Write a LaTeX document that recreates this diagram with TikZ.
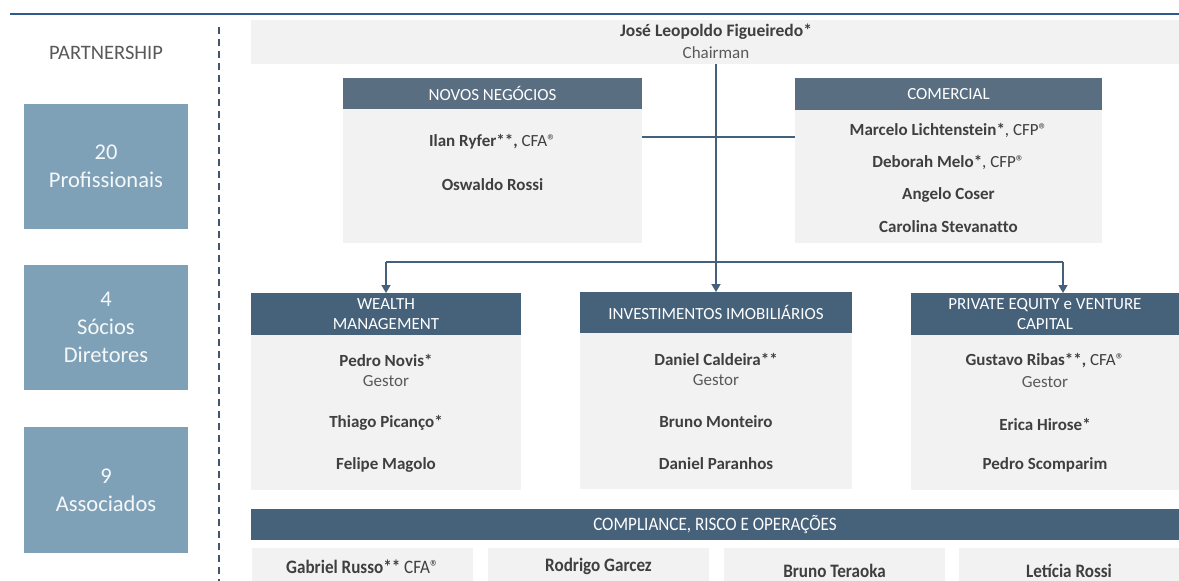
\documentclass[tikz,border=0pt]{standalone}
\usepackage{fontspec}
\setmainfont{Carlito}
\newfontfamily\narrowfont[FakeStretch=0.9]{Carlito}
\usetikzlibrary{arrows.meta}
\definecolor{topline}{HTML}{2F5A8E}
\definecolor{leftbox}{HTML}{7FA1B8}
\definecolor{hdrA}{HTML}{5A6E82}
\definecolor{hdrB}{HTML}{46617A}
\definecolor{bodyg}{HTML}{F2F2F2}
\definecolor{txt}{HTML}{3F3F3F}
\definecolor{subtxt}{HTML}{595959}
\definecolor{conn}{HTML}{44607A}
\definecolor{dashc}{HTML}{44546A}
\tikzset{
  blk/.style={inner sep=0pt, outer sep=0pt, draw=none},
  lbox/.style={blk, fill=leftbox, text=white!92!leftbox, font=\fontsize{22.5}{28}\selectfont, align=center},
  hdrone/.style={blk, fill=hdrA, text=white, font=\fontsize{17}{20}\selectfont, align=center},
  hdrtwo/.style={blk, fill=hdrB, text=white, font=\fontsize{17}{20}\selectfont, align=center},
  bodybox/.style={blk, fill=bodyg},
  person/.style={inner sep=0pt, text=txt, font=\fontsize{17}{20}\bfseries\selectfont, anchor=center},
  roletxt/.style={inner sep=0pt, text=subtxt, font=\fontsize{17}{20}\selectfont, anchor=center},
  bottomname/.style={person, font=\narrowfont\fontsize{19}{22}\bfseries\selectfont},
  conline/.style={draw=conn, line width=1.6pt},
  arr/.style={conline, -{Triangle[width=9pt,length=8pt]}},
}
\newcommand{\regs}{®}
\begin{document}
\begin{tikzpicture}[x=1pt,y=-1pt]
\useasboundingbox (0,0) rectangle (1179,581);
\fill[white] (0,0) rectangle (1179,581);
% top rule
\coordinate (tl) at (10,14);
\coordinate (tr) at (1179,14);
\draw[topline, line width=2pt] (tl) -- (tr);
% dashed divider
\coordinate (dtop) at (219,27);
\coordinate (dbot) at (219,581);
\draw[dashc, line width=1.8pt, dash pattern=on 7pt off 5pt] (dtop) -- (dbot);
% left column
\node[inner sep=0pt, text=subtxt, font=\fontsize{20.5}{24}\selectfont] (partner) at (106,53) {PARTNERSHIP};
\node[lbox, minimum width=164pt, minimum height=125pt] (l1) at (106,166.5) {20\\Profissionais};
\node[lbox, minimum width=164pt, minimum height=125pt] (l2) at (106,327.5) {4\\Sócios\\Diretores};
\node[lbox, minimum width=164pt, minimum height=126pt] (l3) at (106,490) {9\\Associados};
% chairman
\node[bodybox, minimum width=928pt, minimum height=44pt] (ch) at (715,42) {};
\node[person, font=\fontsize{17.5}{20}\bfseries\selectfont] (chn) at (716,32) {José Leopoldo Figueiredo*};
\node[roletxt] (chr) at (716,53) {Chairman};
% novos negocios
\node[hdrone, minimum width=299pt, minimum height=31pt] (nnh) at (492.5,93.5) {NOVOS NEGÓCIOS};
\node[bodybox, minimum width=299pt, minimum height=134pt] (nnb) at (492.5,176) {};
\node[person] (nn1) at (492.5,142) {Ilan Ryfer**, \textmd{CFA\regs}};
\node[person] (nn2) at (492.5,185) {Oswaldo Rossi};
% comercial
\node[hdrone, minimum width=307pt, minimum height=32pt] (coh) at (948.5,94) {COMERCIAL};
\node[bodybox, minimum width=307pt, minimum height=133pt] (cob) at (948.5,176.5) {};
\node[person] (co1) at (948.5,131) {Marcelo Lichtenstein*\textmd{, CFP\regs}};
\node[person] (co2) at (948.5,163) {Deborah Melo*\textmd{, CFP\regs}};
\node[person] (co3) at (948.5,195) {Angelo Coser};
\node[person] (co4) at (948.5,227) {Carolina Stevanat\kern0pt to};
% second row
\node[hdrtwo, minimum width=270pt, minimum height=42pt] (wmh) at (386,314) {WEALTH\\MANAGEMENT};
\node[bodybox, minimum width=270pt, minimum height=155pt] (wmb) at (386,412.5) {};
\node[person] (wm1) at (386,360) {Pedro Novis*};
\node[roletxt] (wm1r) at (386,381) {Gestor};
\node[person] (wm2) at (386,423) {Thiago Picanço*};
\node[person] (wm3) at (386,465) {Felipe Magolo};
\node[hdrtwo, minimum width=272pt, minimum height=41pt] (ivh) at (716,312.5) {INVESTIMENTOS IMOBILIÁRIOS};
\node[bodybox, minimum width=272pt, minimum height=156pt] (ivb) at (716,411) {};
\node[person] (iv1) at (716,359) {Daniel Caldeira**};
\node[roletxt] (iv1r) at (716,380) {Gestor};
\node[person] (iv2) at (716,422) {Bruno Monteiro};
\node[person] (iv3) at (716,464) {Daniel Paranhos};
\node[hdrtwo, minimum width=268pt, minimum height=42pt] (peh) at (1045,314) {PRIVATE EQUITY e VENTURE\\CAPITAL};
\node[bodybox, minimum width=268pt, minimum height=155pt] (peb) at (1045,412.5) {};
\node[person] (pe1) at (1045,361) {Gustavo Ribas**, \textmd{CFA\regs}};
\node[roletxt] (pe1r) at (1045,382) {Gestor};
\node[person] (pe2) at (1045,424) {Erica Hirose*};
\node[person] (pe3) at (1045,465) {Pedro Scomparim};
% compliance
\node[hdrtwo, minimum width=928pt, minimum height=31pt, font=\narrowfont\fontsize{19}{22}\selectfont] (cph) at (715,524.5) {COMPLIANCE, RISCO E OPERAÇÕES};
\node[bodybox, minimum width=221pt, minimum height=33pt] (b1) at (362.5,564.5) {};
\node[bodybox, minimum width=221pt, minimum height=33pt] (b2) at (598.5,564.5) {};
\node[bodybox, minimum width=221pt, minimum height=33pt] (b3) at (834.5,564.5) {};
\node[bodybox, minimum width=220pt, minimum height=33pt] (b4) at (1069,564.5) {};
\node[bottomname] (b1t) at (362.5,567) {Gabriel Russo** \textmd{CFA\regs}};
\node[bottomname] (b2t) at (598.5,566) {Rodrigo Garcez};
\node[bottomname] (b3t) at (834.5,571) {Bruno Teraoka};
\node[bottomname] (b4t) at (1069,571) {Letícia Rossi};
% connectors
\coordinate (bar) at (716,262);
\coordinate (pearr) at (1063,262);
\draw[conline] (nnb.east |- 0,137) -- (cob.west |- 0,137);
\draw[arr] (ivh.north |- ch.south) -- (ivh.north);
\draw[conline] (wmh.north |- bar) -- (pearr);
\draw[arr] (wmh.north |- bar) -- (wmh.north);
\draw[arr] (pearr) -- (pearr |- peh.north);
\end{tikzpicture}
\end{document}
